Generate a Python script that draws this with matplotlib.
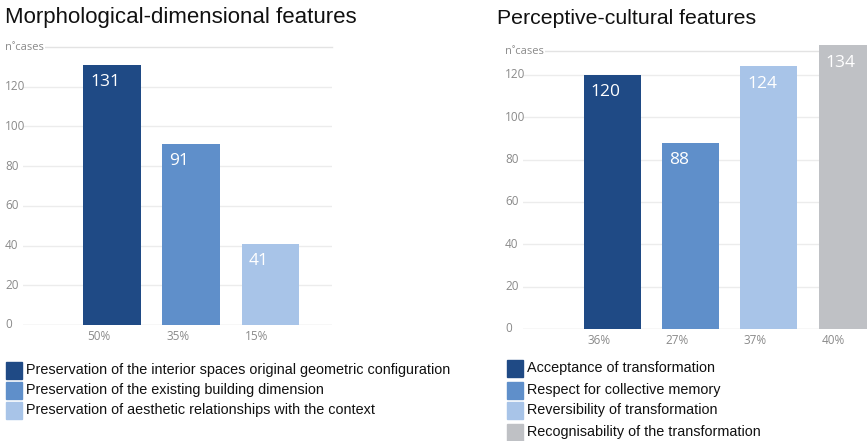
import matplotlib
matplotlib.use("Agg")
import matplotlib.pyplot as plt

# ---- data ----
left_title = "Morphological-dimensional features"
left_labels = ["Preservation of the interior spaces original geometric configuration",
               "Preservation of the existing building dimension",
               "Preservation of aesthetic relationships with the context"]
left_values = [131, 91, 41]
left_pcts = ["50%", "35%", "15%"]

right_title = "Perceptive-cultural features"
right_labels = ["Acceptance of transformation",
                "Respect for collective memory",
                "Reversibility of transformation",
                "Recognisability of the transformation"]
right_values = [120, 88, 124, 134]
right_pcts = ["36%", "27%", "37%", "40%"]

yticks = [0, 20, 40, 60, 80, 100, 120]

colors = ["#1f4a85", "#5f8fca", "#a8c4e8", "#bfc1c5"]

W, H = 867, 441
fig = plt.figure(figsize=(W / 100, H / 100), dpi=100)
fig.patch.set_facecolor("white")

def fx(px):
    return px / W

def fy(py):
    return 1 - py / H

def panel(x0, x1, y0px, ytoppx, ytop, xlo, xhi, values, pcts, tick_x):
    ax = fig.add_axes([fx(x0), fy(y0px), fx(x1) - fx(x0), fy(ytoppx) - fy(y0px)])
    ax.set_xlim(xlo, xhi)
    ax.set_ylim(0, ytop)
    ax.axis("off")
    for t in yticks:
        ax.axhline(t, color="#d9d9d9" if t == 0 else "#ececec", lw=1, zorder=0)
        ax.text(tick_x, t, str(t), transform=ax.get_yaxis_transform(),
                ha="left", va="center", fontsize=8.5, color="#8a8a8a",
                family="Open Sans")
    ax.axhline(ytop, color="#e3e3e3", lw=1, zorder=0, clip_on=False)
    ax.text(tick_x, ytop, "n˚cases", transform=ax.get_yaxis_transform(),
            ha="left", va="center", fontsize=8, color="#8a8a8a",
            family="Open Sans", bbox=dict(fc="white", ec="none", pad=1))
    xs = list(range(len(values)))
    bars = ax.bar(xs, values, width=0.73, color=colors[:len(values)], zorder=2)
    for b in bars:
        b.set_clip_on(False)
    for x, v, p in zip(xs, values, pcts):
        ax.text(x - 0.365 + 0.09, v - 4.5, str(v), ha="left", va="top",
                fontsize=12.5, color="white", family="Open Sans", zorder=3,
                clip_on=False)
        ax.text(x - 0.17, -2.5, p, ha="center", va="top", fontsize=8.5,
                color="#8a8a8a", family="Open Sans")
    return ax

# left panel: 0 at y=325px, 140 at y=47px
axL = panel(23, 332, 325, 47, 140, -1.13, 2.78, left_values, left_pcts, -18 / 309)
# right panel: 0 at y=329px, top line at y=51px (~131)
axR = panel(523, 833, 329, 51, 131.3, -1.14, 2.82, right_values, right_pcts, -18 / 310)

fig.text(fx(5), fy(18), left_title, ha="left", va="center", fontsize=16,
         family="Liberation Sans", color="#111111")
fig.text(fx(497), fy(18), right_title, ha="left", va="center", fontsize=15.3,
         family="Liberation Sans", color="#111111")

def legend(xsq, ys, labels):
    for i, (y, lab) in enumerate(zip(ys, labels)):
        fig.patches.append(plt.Rectangle((fx(xsq), fy(y + 8.5)), fx(16), 17 / H,
                                         transform=fig.transFigure,
                                         color=colors[i]))
        fig.text(fx(xsq + 20), fy(y), lab, ha="left", va="center", fontsize=10.4,
                 family="Liberation Sans", color="#111111")

legend(6, [370, 390, 410], left_labels)
legend(507, [368, 390, 410, 432], right_labels)

fig.savefig("out.png", dpi=100)
